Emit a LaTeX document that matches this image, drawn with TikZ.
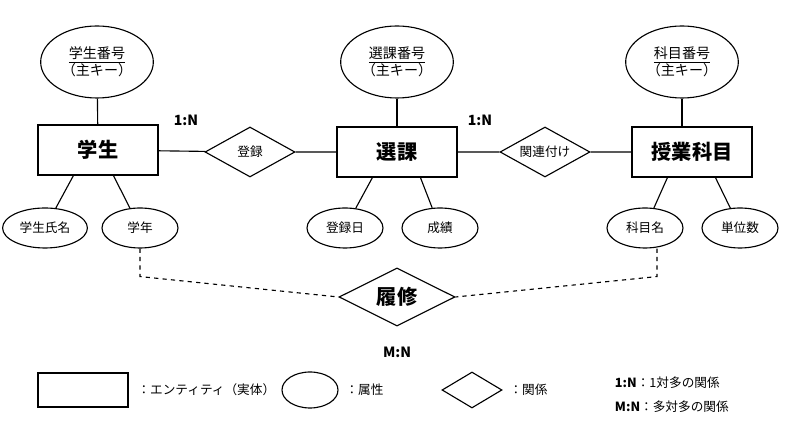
\documentclass[tikz,border=0pt]{standalone}
\usepackage{fontspec}
\setmainfont{Noto Sans CJK JP}
\usetikzlibrary{positioning,shapes.geometric}
\tikzset{
  ent/.style={draw,thick,minimum width=3cm,minimum height=1.25cm,font=\Large\bfseries},
  key/.style={draw,thick,ellipse,minimum width=2.75cm,minimum height=1.8cm,align=center,font=\normalsize},
  attr/.style={draw,thick,ellipse,minimum width=1.9cm,minimum height=1cm,font=\small},
  rel/.style={draw,thick,diamond,aspect=1.8,inner sep=1pt,minimum width=2.25cm,minimum height=1.25cm,font=\small},
  link/.style={thick},
  dlink/.style={thick,dashed},
  legtext/.style={font=\small}
}
\begin{document}
\begin{tikzpicture}
\useasboundingbox (0,0) rectangle (20,10.975);
% entities
\node[ent] (student) at (2.45,7.225) {学生};
\node[ent] (enroll) at (9.925,7.175) {選課};
\node[ent] (course) at (17.3,7.175) {授業科目};
% keys
\node[key] (skey) at (2.425,9.425) {\underline{学生番号}\\（主キー）};
\node[key] (ekey) at (9.925,9.425) {\underline{選課番号}\\（主キー）};
\node[key] (ckey) at (17.05,9.425) {\underline{科目番号}\\（主キー）};
% attributes
\node[attr] (sname) at (1.125,5.275) {学生氏名};
\node[attr] (grade) at (3.5,5.275) {学年};
\node[attr] (edate) at (8.625,5.275) {登録日};
\node[attr] (score) at (11,5.275) {成績};
\node[attr] (cname) at (16.125,5.275) {科目名};
\node[attr] (units) at (18.5,5.275) {単位数};
% relations
\node[rel] (reg) at (6.25,7.175) {登録};
\node[rel] (assoc) at (13.625,7.175) {関連付け};
\node[rel,minimum width=2.9cm,minimum height=1.45cm,font=\Large\bfseries] (take) at (9.925,3.55) {履修};
\node[font=\bfseries] (card1) at (4.65,7.975) {1:N};
\node[font=\bfseries] (card2) at (12,7.975) {1:N};
\node[font=\bfseries] (card3) at (9.925,2.175) {M:N};
\draw[link] (skey) -- (student);
\draw[link] (ekey) -- (enroll);
\draw[link] (ckey.south) -- (ckey.south |- course.north);
\draw[link] (student) -- (reg) -- (enroll) -- (assoc) -- (course);
\draw[link] (student.south west) ++(0.9,0) -- (sname);
\draw[link] (student.south west) ++(1.9,0) -- (grade);
\draw[link] (enroll.south west) ++(0.9,0) -- (edate);
\draw[link] (enroll.south west) ++(2.1,0) -- (score);
\draw[link] (course.south west) ++(0.9,0) -- (cname);
\draw[link] (course.south west) ++(2.1,0) -- (units);
\draw[dlink] (grade.south) -- ++(0,-0.7) -- (take.west);
\draw[dlink] ([xshift=0.3cm]cname.south) -- ++(0,-0.7) -- (take.east);
% legend
\node[draw,thick,minimum width=2.25cm,minimum height=0.85cm] (lent) at (2.075,1.225) {};
\node[legtext,right=0.1cm of lent] (tent) {：エンティティ（実体）};
\node[draw,thick,ellipse,minimum width=1.4cm,minimum height=0.9cm] (lattr) at (7.75,1.225) {};
\node[legtext,right=0.05cm of lattr] (tattr) {：属性};
\node[draw,thick,diamond,aspect=1.7,minimum width=1.5cm,minimum height=0.9cm] (lrel) at (11.8,1.225) {};
\node[legtext,right=0.05cm of lrel] (trel) {：関係};
\node[legtext,anchor=west] (n1) at (15.25,1.4) {\textbf{1:N}：1対多の関係};
\node[legtext,anchor=west] (n2) at (15.25,0.8) {\textbf{M:N}：多対多の関係};
\end{tikzpicture}
\end{document}
